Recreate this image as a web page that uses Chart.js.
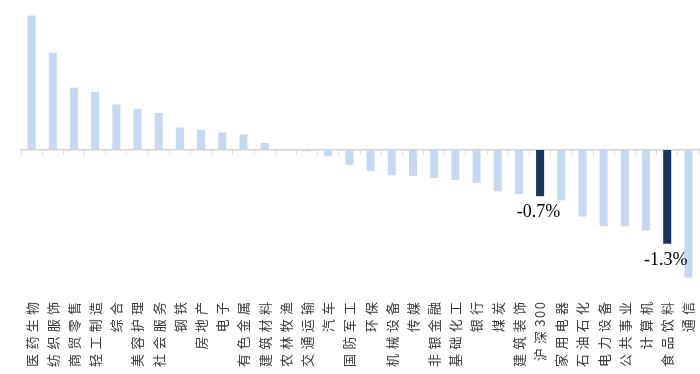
<!DOCTYPE html>
<html><head><meta charset="utf-8">
<script src="https://cdn.jsdelivr.net/npm/chart.js@4/dist/chart.umd.min.js"></script>
<style>html,body{margin:0;padding:0;background:#fff;overflow:hidden;}</style>
</head><body>
<canvas id="c" width="700" height="374"></canvas>
<script>
const categories = ['医药生物','纺织服饰','商贸零售','轻工制造','综合','美容护理','社会服务','钢铁','房地产','电子','有色金属','建筑材料','农林牧渔','交通运输','汽车','国防军工','环保','机械设备','传媒','非银金融','基础化工','银行','煤炭','建筑装饰','沪深300','家用电器','石油石化','电力设备','公共事业','计算机','食品饮料','通信'];
const values = [1.92,1.39,0.89,0.83,0.65,0.59,0.53,0.32,0.29,0.25,0.22,0.10,0,-0.02,-0.09,-0.21,-0.30,-0.36,-0.37,-0.40,-0.43,-0.47,-0.59,-0.63,-0.66,-0.72,-0.95,-1.09,-1.09,-1.15,-1.34,-1.82];
const highlighted = ['沪深300','食品饮料'];
const yMin = -2, yMax = 2;

const LIGHT = '#C6D9F0', DARK = '#17375E';
const isCJK = c => /[\u3400-\u9fff]/.test(c || '');

const labelPlugin = {
  id: 'customLabels',
  afterDraw(chart) {
    const ctx = chart.ctx, xs = chart.scales.x;
    ctx.save();
    ctx.fillStyle = '#3a3a3a';
    ctx.font = '13px "Noto Sans CJK SC"';
    ctx.textBaseline = 'middle';
    ctx.textAlign = 'left';
    const top = chart.chartArea.bottom + 12;
    categories.forEach((cat, i) => {
      const x = xs.getPixelForValue(i);
      ctx.save();
      ctx.translate(x, top);
      ctx.rotate(-Math.PI / 2);
      const chars = Array.from(cat);
      let cur = 0;
      for (let k = chars.length - 1; k >= 0; k--) {
        const ch = chars[k];
        const w = ctx.measureText(ch).width;
        cur -= w;
        ctx.fillText(ch, cur, 0);
        cur -= (isCJK(ch) || isCJK(chars[k - 1])) ? 4.3 : 1.5;
      }
      ctx.restore();
    });
    const meta = chart.getDatasetMeta(0);
    ctx.font = '18px "Liberation Serif"';
    ctx.fillStyle = '#000';
    ctx.textAlign = 'center';
    ctx.textBaseline = 'middle';
    categories.forEach((cat, i) => {
      if (!highlighted.includes(cat)) return;
      const el = meta.data[i];
      ctx.fillText(values[i].toFixed(1) + '%', el.x - 1.5, el.y + 16);
    });
    ctx.restore();
  }
};

new Chart(document.getElementById('c'), {
  type: 'bar',
  data: {
    labels: categories,
    datasets: [{
      data: values,
      backgroundColor: categories.map(c => highlighted.includes(c) ? DARK : LIGHT),
      barPercentage: 0.38,
      categoryPercentage: 1.0
    }]
  },
  options: {
    responsive: false,
    animation: false,
    devicePixelRatio: 1,
    layout: { padding: { top: 10, bottom: 84, left: 21, right: 1 } },
    plugins: { legend: { display: false }, tooltip: { enabled: false } },
    scales: {
      x: {
        position: { y: 0 },
        offset: true,
        grid: { display: true, offset: true, drawOnChartArea: false, drawTicks: true, tickLength: 4, color: '#D9D9D9', lineWidth: 1 },
        border: { display: true, color: '#D4D4D4', width: 1.5 },
        ticks: { display: false }
      },
      y: {
        display: false,
        min: yMin, max: yMax
      }
    }
  },
  plugins: [labelPlugin]
});
</script>
</body></html>
